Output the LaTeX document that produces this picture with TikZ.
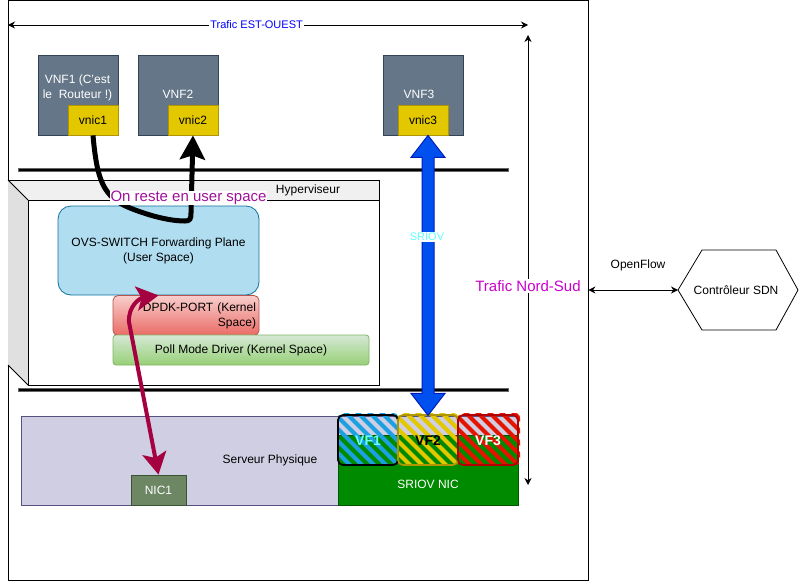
\documentclass[tikz,border=0pt]{standalone}
\usepackage{fontspec}
\setmainfont{Liberation Sans}
\usetikzlibrary{arrows.meta}
\definecolor{vnfgray}{HTML}{647687}
\definecolor{vnfline}{HTML}{314354}
\definecolor{vnicyellow}{HTML}{E3C800}
\definecolor{vnicline}{HTML}{B09500}
\definecolor{ovsblue}{HTML}{B1DDF0}
\definecolor{ovsline}{HTML}{10739E}
\definecolor{srvfill}{HTML}{D0CEE2}
\definecolor{srvline}{HTML}{56517E}
\definecolor{nicgreen}{HTML}{6D8764}
\definecolor{nicline}{HTML}{3A5431}
\definecolor{sriovgreen}{HTML}{008A00}
\definecolor{sriovline}{HTML}{005700}
\definecolor{crimson}{HTML}{A50040}
\definecolor{blockblue}{HTML}{0050EF}
\definecolor{blockline}{HTML}{001DBC}
\definecolor{vfblue}{HTML}{1BA1E2}
\definecolor{vfred}{HTML}{E51400}
\definecolor{vfredline}{HTML}{B20000}
\definecolor{labelcyan}{HTML}{66FFFF}
\definecolor{labelpurple}{HTML}{A0109A}
\definecolor{labelmagenta}{HTML}{CC00CC}
\definecolor{dpdktop}{HTML}{F8CECC}
\definecolor{dpdkbot}{HTML}{EA6B66}
\definecolor{dpdkline}{HTML}{B85450}
\definecolor{polltop}{HTML}{D5E8D4}
\definecolor{pollbot}{HTML}{97D077}
\definecolor{pollline}{HTML}{82B366}
\tikzset{
  txt/.style={font=\fontsize{12}{15}\selectfont,align=center,inner sep=1pt},
  vnf/.style={txt,draw=vnfline,fill=vnfgray,text=white,minimum width=80pt,minimum height=80pt,inner sep=0pt},
  vnic/.style={txt,draw=vnicline,fill=vnicyellow,minimum width=50pt,minimum height=30pt,inner sep=0pt},
  bar/.style={draw=black!60,fill=black,line width=0.8pt},
  thinarrow/.style={{Stealth[length=7pt,width=7pt]}-{Stealth[length=7pt,width=7pt]},line width=0.8pt},
  vftext/.style={font=\fontsize{14}{16}\bfseries\selectfont,inner sep=0pt},
}
\begin{document}
\begin{tikzpicture}[x=1pt,y=-1pt,line width=0.8pt]
  \useasboundingbox (0,0) rectangle (799,581);

  % frame
  \node[draw,minimum width=580pt,minimum height=580pt,inner sep=0pt] (frame) at (298,290) {};

  % vnf
  \node[vnf] (vnf1) at (78,95) {};
  \node[txt,text=white] (vnf1text) at (77.5,88) {VNF1 (C'est\\le\ \ Routeur !)};
  \node[vnf] (vnf2) at (178,95) {};
  \node[txt,text=white] (vnf2text) at (178,94) {VNF2};
  \node[vnf] (vnf3) at (423,95) {};
  \node[txt,text=white] (vnf3text) at (419,94) {VNF3};
  \node[vnic] (vnic1) at (93,120) {vnic1};
  \node[vnic] (vnic2) at (193,120) {vnic2};
  \node[vnic] (vnic3) at (423,120) {vnic3};

  % bars
  \node[bar,minimum width=490pt,minimum height=3pt,inner sep=0pt] (bartop) at (263,170) {};
  \node[bar,minimum width=490pt,minimum height=3pt,inner sep=0pt] (barbot) at (263,390) {};

  % hypervisor
  \fill[black!6] (8,180) -- (379,180) -- (379,200) -- (28,200) -- cycle;
  \fill[black!12] (8,180) -- (28,200) -- (28,385) -- (8,365) -- cycle;
  \node[draw,fill=white,minimum width=351pt,minimum height=185pt,inner sep=0pt] (hyperfront) at (203.5,292.5) {};
  \draw (8,180) -- (379,180) -- (379,200);
  \draw (8,180) -- (28,200);
  \draw (8,365) -- (28,385);
  \node[txt] (hypertext) at (308,190) {Hyperviseur};

  % hypervisor content
  \node[txt,draw=ovsline,fill=ovsblue,rounded corners=13pt,minimum width=201pt,minimum height=89pt] (ovs) at (158.5,250.5) {OVS-SWITCH Forwarding Plane\\(User Space)};
  \node[txt,draw=dpdkline,top color=dpdktop,bottom color=dpdkbot,rounded corners=5pt,minimum width=146pt,minimum height=40pt,align=right,text width=140pt] (dpdk) at (186,315.5) {DPDK-PORT (Kernel\\Space)};
  \node[txt,draw=pollline,top color=polltop,bottom color=pollbot,rounded corners=3pt,minimum width=256pt,minimum height=30pt] (poll) at (241,350) {Poll Mode Driver (Kernel Space)};

  % server
  \node[draw=srvline,fill=srvfill,minimum width=497pt,minimum height=89pt,inner sep=0pt] (srv) at (269.5,460.5) {};
  \node[txt] (srvtext) at (270,460) {Serveur Physique};
  \node[draw=sriovline,fill=sriovgreen,minimum width=180pt,minimum height=70pt,inner sep=0pt] (nicback) at (428,470) {};
  \node[txt,text=white] (sriovtext) at (428,484.5) {SRIOV NIC};
  \node[txt,draw=nicline,fill=nicgreen,text=white,minimum width=55pt,minimum height=30pt,inner sep=0pt] (nic1) at (158.5,490) {NIC1};

  % vf hatching
  \foreach \name/\xa/\xb/\col/\lin/\txtcol in {vf1/338/398/vfblue/black/labelcyan,vf2/398/458/vnicyellow/vnicline/black,vf3/458/520/vfred/vfredline/white}{
    \begin{scope}
      \clip[rounded corners=4pt] (\xa,413) rectangle (\xb,465);
      \foreach \s in {-60,-48,...,60}
        \draw[\col,line width=4.2pt] (\xa+\s,405) -- ++(70,70);
    \end{scope}
    \node[draw=\lin,line width=1.8pt,rounded corners=5pt,minimum width=60pt,minimum height=50pt,inner sep=0pt] (\name) at (\xa+30,440) {};
    \node[vftext,text=\txtcol] (\name text) at (\xa+30,441) {\MakeUppercase{\name}};
  }

  % traffic arrows
  \coordinate (westend) at (8,25);
  \coordinate (eastend) at (528,25);
  \coordinate (northend) at (528,35);
  \coordinate (southend) at (528,485);
  \draw[thinarrow] (westend) -- node[txt,fill=white,text=blue,inner sep=1pt,pos=0.478,font=\fontsize{11}{13}\selectfont] (estouest) {Trafic EST-OUEST} (eastend);
  \draw[thinarrow] (northend) -- (southend);
  \node[txt,fill=white,text=labelmagenta,font=\fontsize{15}{17}\selectfont] (nordsud) at (528,286) {Trafic Nord-Sud};

  % sdn
  \coordinate (sdnwest) at (678,290);
  \draw (sdnwest) -- (702,250) -- (776,250) -- (798,290) -- (776,330) -- (702,330) -- cycle;
  \node[txt] (sdn) at (736,290) {Contrôleur SDN};
  \draw[thinarrow] (frame.east) -- (sdnwest);
  \node[txt] (openflow) at (638,265) {OpenFlow};

  % flow arrows
  \draw[line width=5pt,-{Stealth[length=24pt,width=25pt,inset=4pt]}] (vnic1.south) .. controls (97,180) and (103,197) .. (130,208) .. controls (150,216) and (170,221) .. (185,221) .. controls (190,221) and (191,219) .. (191,213) -- (vnic2.south);
  \node[txt,fill=white,text=labelpurple,font=\fontsize{15}{17}\selectfont,inner sep=0.5pt] (userspace) at (188.5,198) {On reste en user space};
  \draw[crimson,line width=4pt,{Stealth[length=22pt,width=24pt,inset=5pt]}-{Stealth[length=22pt,width=24pt,inset=5pt]}] (nic1.north) -- (129,322) .. controls (128,306) and (140,298) .. (ovs.south);

  % sriov arrow
  \filldraw[draw=blockline,fill=blockblue,line width=1pt] (vnic3.south) ++(5,0) -- ++(17,22) -- ++(-11,0) -- ++(0,236) -- ++(11,0) -- ++(-17,22) -- ++(-17,-22) -- ++(11,0) -- ++(0,-236) -- ++(-11,0) -- cycle;
  \node[txt,fill=white,text=labelcyan,font=\fontsize{11}{13}\selectfont] (sriovlabel) at (427,237) {SRIOV};
\end{tikzpicture}
\end{document}
